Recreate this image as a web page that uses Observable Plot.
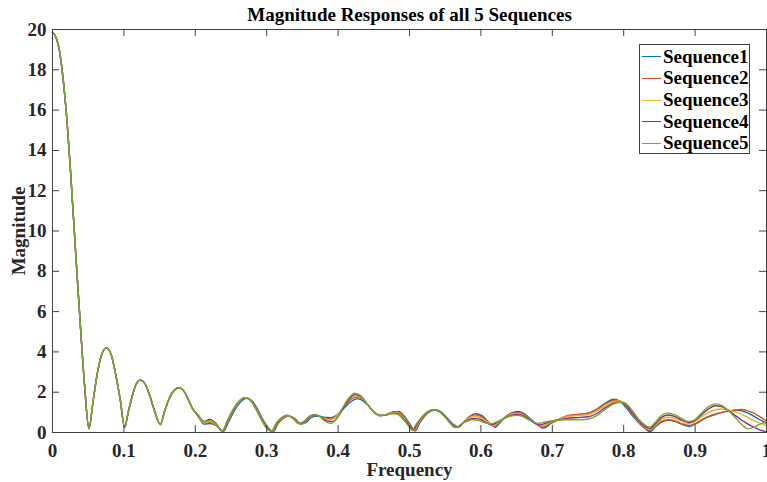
<!DOCTYPE html>
<html><head><meta charset="utf-8">
<script src="https://cdn.jsdelivr.net/npm/d3@7"></script>
<script src="https://cdn.jsdelivr.net/npm/@observablehq/plot@0.6"></script>
<style>
body{margin:0;background:#fff;}
#wrap{position:relative;width:767px;height:482px;font-family:"Liberation Serif","Times New Roman",serif;font-weight:bold;}
#legend{position:absolute;left:639px;top:44px;width:111px;height:110px;border:1px solid #404040;background:#fff;box-sizing:border-box;}
.lline{position:absolute;left:2px;width:19px;height:1.3px;}
.ltext{position:absolute;left:23px;height:20px;line-height:20px;font-size:19px;color:#000;white-space:nowrap;}
</style></head><body><div id="wrap"></div>
<script>
const seriesNames = ["Sequence1","Sequence2","Sequence3","Sequence4","Sequence5"];
const seriesColors = ["#0072BD","#D95319","#EDB120","#7E2F8E","#77AC30"];
const xTicks = [0,0.1,0.2,0.3,0.4,0.5,0.6,0.7,0.8,0.9,1];
const yTicks = [0,2,4,6,8,10,12,14,16,18,20];

// shared main lobe + first sidelobes (all sequences overlap here)
const lobeFreq = [0,0.005,0.01,0.015,0.02,0.025,0.03,0.035,0.04,0.045,0.051,0.057,0.063,0.069,0.0755,0.082,0.088,0.095,0.101,0.106,0.112,0.1175,0.123,0.1295,0.136,0.1435,0.151,0.157,0.163,0.170,0.177,0.184,0.190,0.196];
const lobeMag  = [19.85,19.6,18.9,17.5,15.6,13.1,10.3,7.5,4.8,2.3,0.2,1.6,2.97,3.88,4.2,3.88,2.97,1.6,0.25,1.0,1.85,2.42,2.6,2.42,1.85,1.0,0.4,1.05,1.65,2.08,2.22,2.05,1.65,1.2];

const seq1Freq = [0.204,0.212,0.2205,0.229,0.239,0.247,0.255,0.263,0.272,0.280,0.288,0.296,0.303,0.309,0.316,0.323,0.331,0.339,0.348,0.355,0.363,0.371,0.380,0.390,0.398,0.407,0.417,0.426,0.434,0.443,0.452,0.460,0.468,0.477,0.485,0.493,0.501,0.508,0.514,0.521,0.529,0.536,0.544,0.552,0.561,0.569,0.577,0.585,0.593,0.601,0.610,0.620,0.628,0.637,0.645,0.652,0.660,0.668,0.677,0.688,0.698,0.708,0.720,0.735,0.750,0.762,0.774,0.786,0.795,0.804,0.813,0.822,0.830,0.8366,0.845,0.853,0.862,0.872,0.882,0.892,0.902,0.915,0.930,0.945,0.960,0.972,0.985,1.0];
const seq1Mag  = [0.8,0.42,0.45,0.35,0.05,0.55,1.1,1.5,1.7,1.55,1.1,0.55,0.2,0.03,0.45,0.7,0.82,0.7,0.42,0.5,0.75,0.82,0.76,0.74,0.85,1.15,1.5,1.67,1.6,1.3,0.95,0.84,0.9,1.02,1.05,0.8,0.4,0.08,0.45,0.8,1.05,1.13,1.02,0.75,0.42,0.28,0.55,0.82,0.93,0.85,0.55,0.26,0.55,0.85,1.0,1.05,0.95,0.72,0.45,0.22,0.45,0.62,0.8,0.88,0.95,1.15,1.45,1.65,1.55,1.2,0.8,0.45,0.2,0.04,0.3,0.52,0.6,0.55,0.4,0.3,0.45,0.72,0.92,1.05,1.1,1.0,0.75,0.45];

const seq2Freq = [0.204,0.212,0.2205,0.229,0.2385,0.246,0.254,0.262,0.271,0.279,0.287,0.295,0.302,0.308,0.315,0.322,0.330,0.338,0.347,0.354,0.362,0.370,0.378,0.388,0.397,0.406,0.416,0.425,0.433,0.442,0.451,0.459,0.467,0.476,0.484,0.492,0.500,0.507,0.513,0.520,0.528,0.535,0.543,0.551,0.560,0.568,0.576,0.584,0.592,0.600,0.609,0.619,0.627,0.636,0.644,0.651,0.659,0.667,0.676,0.686,0.697,0.707,0.720,0.735,0.750,0.763,0.775,0.788,0.797,0.806,0.815,0.823,0.830,0.8366,0.845,0.853,0.862,0.872,0.882,0.892,0.902,0.915,0.930,0.945,0.965,0.978,0.990,1.0];
const seq2Mag  = [0.82,0.45,0.5,0.37,0.06,0.57,1.12,1.52,1.72,1.57,1.12,0.57,0.2,0.04,0.45,0.71,0.83,0.71,0.43,0.52,0.78,0.85,0.76,0.68,0.8,1.15,1.58,1.75,1.68,1.36,0.98,0.84,0.88,0.99,1.02,0.78,0.4,0.09,0.45,0.8,1.05,1.13,1.03,0.77,0.43,0.27,0.52,0.78,0.88,0.8,0.55,0.3,0.55,0.82,0.96,1.0,0.92,0.7,0.45,0.27,0.45,0.62,0.82,0.9,0.96,1.15,1.43,1.6,1.52,1.18,0.78,0.45,0.22,0.1,0.33,0.55,0.63,0.58,0.43,0.35,0.48,0.74,0.93,1.06,1.14,1.02,0.8,0.56];

const seq3Freq = [0.204,0.212,0.2205,0.229,0.238,0.2455,0.2535,0.2615,0.270,0.278,0.286,0.294,0.301,0.3075,0.314,0.321,0.329,0.337,0.346,0.353,0.361,0.368,0.376,0.386,0.395,0.405,0.415,0.424,0.432,0.441,0.450,0.459,0.467,0.475,0.483,0.491,0.499,0.506,0.512,0.519,0.527,0.534,0.542,0.550,0.559,0.567,0.575,0.583,0.591,0.599,0.608,0.617,0.626,0.635,0.643,0.651,0.659,0.667,0.676,0.685,0.696,0.706,0.720,0.735,0.750,0.763,0.776,0.791,0.800,0.808,0.816,0.824,0.831,0.8366,0.845,0.853,0.862,0.872,0.882,0.891,0.900,0.912,0.924,0.935,0.948,0.962,0.975,0.988,1.0];
const seq3Mag  = [0.84,0.48,0.55,0.39,0.06,0.58,1.13,1.53,1.73,1.58,1.13,0.58,0.2,0.04,0.45,0.71,0.84,0.71,0.44,0.53,0.8,0.87,0.78,0.62,0.72,1.15,1.64,1.82,1.74,1.4,1.0,0.84,0.87,0.97,0.98,0.75,0.4,0.1,0.45,0.8,1.05,1.13,1.04,0.78,0.44,0.26,0.48,0.72,0.8,0.74,0.55,0.35,0.55,0.78,0.91,0.95,0.88,0.68,0.45,0.33,0.48,0.62,0.78,0.84,0.88,1.08,1.38,1.56,1.48,1.15,0.78,0.45,0.25,0.15,0.4,0.65,0.76,0.7,0.55,0.45,0.56,0.85,1.08,1.17,1.1,0.95,0.72,0.5,0.36];

const seq4Freq = [0.204,0.212,0.2205,0.229,0.2378,0.245,0.253,0.261,0.2695,0.2775,0.2855,0.2935,0.3005,0.307,0.3135,0.3205,0.3285,0.3365,0.3455,0.3525,0.3605,0.3675,0.375,0.384,0.393,0.402,0.411,0.4235,0.4315,0.4405,0.4505,0.4585,0.4665,0.4745,0.4825,0.4905,0.4985,0.505,0.511,0.5185,0.5265,0.5335,0.5415,0.5495,0.558,0.566,0.574,0.582,0.590,0.598,0.606,0.615,0.625,0.635,0.643,0.651,0.659,0.667,0.675,0.683,0.694,0.704,0.720,0.735,0.750,0.764,0.777,0.793,0.801,0.809,0.817,0.825,0.832,0.8366,0.845,0.853,0.862,0.871,0.881,0.891,0.899,0.908,0.918,0.928,0.936,0.946,0.958,0.970,0.985,1.0];
const seq4Mag  = [0.86,0.55,0.65,0.45,0.07,0.59,1.14,1.54,1.73,1.59,1.14,0.59,0.2,0.05,0.45,0.72,0.85,0.72,0.45,0.54,0.81,0.88,0.79,0.58,0.55,0.9,1.45,1.88,1.8,1.42,1.01,0.84,0.86,0.95,0.95,0.72,0.4,0.11,0.45,0.8,1.05,1.13,1.05,0.79,0.45,0.25,0.44,0.63,0.7,0.66,0.52,0.38,0.55,0.75,0.86,0.9,0.84,0.66,0.46,0.38,0.5,0.6,0.7,0.74,0.78,0.98,1.3,1.5,1.45,1.12,0.76,0.44,0.26,0.2,0.46,0.75,0.87,0.8,0.63,0.5,0.58,0.85,1.15,1.33,1.3,1.1,0.8,0.5,0.22,0.02];

const seq5Freq = [0.204,0.212,0.2205,0.229,0.2375,0.245,0.253,0.261,0.269,0.277,0.285,0.293,0.300,0.3065,0.313,0.320,0.328,0.336,0.345,0.352,0.360,0.367,0.374,0.382,0.390,0.398,0.406,0.415,0.423,0.431,0.440,0.450,0.458,0.466,0.474,0.482,0.490,0.497,0.5035,0.510,0.518,0.526,0.533,0.541,0.549,0.557,0.564,0.572,0.580,0.588,0.596,0.604,0.614,0.624,0.634,0.642,0.650,0.658,0.666,0.674,0.680,0.690,0.700,0.710,0.725,0.740,0.752,0.765,0.778,0.790,0.798,0.806,0.814,0.822,0.829,0.8366,0.844,0.852,0.861,0.870,0.880,0.890,0.898,0.906,0.915,0.924,0.930,0.938,0.946,0.955,0.964,0.974,0.982,0.990,1.0];
const seq5Mag  = [0.88,0.52,0.6,0.42,0.07,0.6,1.15,1.55,1.74,1.6,1.15,0.6,0.2,0.05,0.45,0.72,0.86,0.72,0.45,0.55,0.82,0.9,0.8,0.55,0.45,0.7,1.2,1.72,1.95,1.85,1.45,1.02,0.84,0.86,0.93,0.92,0.7,0.4,0.12,0.45,0.8,1.05,1.13,1.05,0.8,0.45,0.24,0.4,0.55,0.63,0.6,0.5,0.43,0.55,0.72,0.82,0.85,0.8,0.65,0.5,0.45,0.52,0.58,0.62,0.63,0.63,0.68,0.9,1.25,1.47,1.5,1.35,1.0,0.62,0.4,0.27,0.5,0.82,0.96,0.9,0.72,0.55,0.6,0.85,1.18,1.38,1.42,1.33,1.1,0.78,0.45,0.18,0.25,0.4,0.52];

const tails = [[seq1Freq,seq1Mag],[seq2Freq,seq2Mag],[seq3Freq,seq3Mag],[seq4Freq,seq4Mag],[seq5Freq,seq5Mag]];
const rows = seriesNames.flatMap((name,i) => [
  ...lobeFreq.map((f,j) => ({s:name, f, m:lobeMag[j]})),
  ...tails[i][0].map((f,j) => ({s:name, f, m:tails[i][1][j]}))
]);

const axisColor = "#404040";
const chart = Plot.plot({
  width: 767, height: 482,
  marginLeft: 52, marginRight: 1, marginTop: 29, marginBottom: 50,
  style: {fontFamily: '"Liberation Serif","Times New Roman",serif', fontWeight: "bold", background: "#fff", color: "#000", overflow: "visible"},
  x: {domain: [0,1]},
  y: {domain: [0,20]},
  color: {domain: seriesNames, range: seriesColors},
  marks: [
    Plot.line(rows, {x:"f", y:"m", z:"s", stroke:"s", curve:"monotone-x", strokeWidth:1.4}),
    Plot.frame({stroke: axisColor, strokeWidth: 1}),
    Plot.tickX(xTicks, {x: d=>d, insetTop: 396, stroke: axisColor}),
    Plot.tickX(xTicks, {x: d=>d, insetBottom: 396, stroke: axisColor}),
    Plot.tickY(yTicks, {y: d=>d, insetRight: 707, stroke: axisColor}),
    Plot.tickY(yTicks, {y: d=>d, insetLeft: 707, stroke: axisColor}),
    Plot.axisX(xTicks, {tickSize: 0, tickPadding: 11, tickFormat: d=>String(d), fontSize: 19, label: null, fill: "#262626"}),
    Plot.axisY(yTicks, {tickSize: 0, tickPadding: 6, tickFormat: d=>String(d), fontSize: 19, label: null, fill: "#262626"}),
    Plot.text(["Magnitude Responses of all 5 Sequences"], {frameAnchor: "top", textAnchor: "middle", lineAnchor: "middle", dy: -15, fontSize: 19, fontWeight: "bold", fill: "#000"}),
    Plot.text(["Frequency"], {frameAnchor: "bottom", textAnchor: "middle", lineAnchor: "middle", dy: 37, fontSize: 19, fontWeight: "bold", fill: "#262626"}),
    Plot.text(["Magnitude"], {frameAnchor: "left", textAnchor: "middle", lineAnchor: "middle", rotate: -90, dx: -34, fontSize: 19, fontWeight: "bold", fill: "#262626"})
  ]
});
const wrap = document.getElementById("wrap");
wrap.appendChild(chart);

const legend = document.createElement("div");
legend.id = "legend";
seriesNames.forEach((name,i) => {
  const cy = 11.8 + 21.65*i;
  const ln = document.createElement("div");
  ln.className = "lline"; ln.style.top = (cy - 0.6) + "px"; ln.style.background = seriesColors[i];
  const tx = document.createElement("div");
  tx.className = "ltext"; tx.style.top = (cy - 10) + "px"; tx.textContent = name;
  legend.appendChild(ln); legend.appendChild(tx);
});
wrap.appendChild(legend);
</script></body></html>
